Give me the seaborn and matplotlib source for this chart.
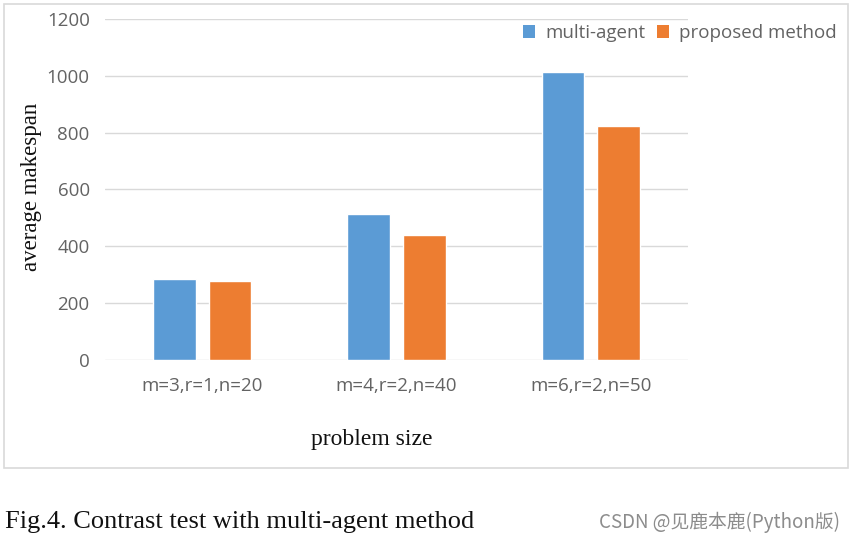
import matplotlib
matplotlib.use("Agg")
import matplotlib.pyplot as plt
import seaborn as sns
import pandas as pd
from matplotlib.patches import Rectangle, Patch

categories = ["m=3,r=1,n=20", "m=4,r=2,n=40", "m=6,r=2,n=50"]
series_names = ["multi-agent", "proposed method"]
multi_agent = [284, 515, 1015]
proposed = [277, 440, 825]
yticks = [0, 200, 400, 600, 800, 1000, 1200]

df = pd.DataFrame({
    "problem size": categories * 2,
    "value": multi_agent + proposed,
    "method": [series_names[0]] * 3 + [series_names[1]] * 3,
})

sns.set_theme(style="white")
plt.rcParams['font.family'] = ['Open Sans', 'DejaVu Sans']

fig = plt.figure(figsize=(8.55, 5.41), dpi=100)
ax = fig.add_axes([0.1228, 0.3346, 0.6819, 0.6303])

palette = {"multi-agent": "#5B9BD5", "proposed method": "#ED7D31"}
sns.barplot(data=df, x="problem size", y="value", hue="method", palette=palette,
            width=0.572, gap=0.23, ax=ax, saturation=1, legend=False)

tick_color = "#636363"
ax.set_ylim(0, 1200)
ax.set_yticks(yticks)
ax.set_yticklabels([str(t) for t in yticks], color=tick_color, fontsize=13.5)
ax.set_xticks(range(len(categories)))
ax.set_xticklabels(categories, color=tick_color, fontsize=13.5)
ax.tick_params(axis='y', length=0, pad=11)
ax.tick_params(axis='x', length=0, pad=12)
ax.grid(axis='y', color="#D9D9D9", linewidth=1)
ax.set_axisbelow(True)
for s in ax.spines.values():
    s.set_visible(False)
ax.set_xlim(-0.5, 2.5)

ax.set_xlabel("")
ax.set_ylabel("")
fig.text(372 / 855, 1 - 440 / 541, "problem size", family="Liberation Serif", fontsize=17,
         ha="center", va="center", color="#111111")
fig.text(31 / 855, 1 - 187 / 541, "average makespan", family="Liberation Serif",
         fontsize=16.5, rotation=90, ha="center", va="center", color="#111111")

handles = [Patch(facecolor=palette[n], edgecolor="none") for n in series_names]
fig.legend(handles, series_names, loc="center right", bbox_to_anchor=(837 / 855, 1 - 33 / 541),
           ncol=2, frameon=False, fontsize=13.5, handlelength=0.65, handleheight=0.65,
           handletextpad=0.55, columnspacing=0.6, labelcolor=tick_color,
           borderaxespad=0, borderpad=0)

fig.patches.append(Rectangle((4 / 855, 1 - 468 / 541), 844 / 855, 464 / 541,
                             transform=fig.transFigure, fill=False,
                             edgecolor="#D9D9D9", linewidth=1.2))

fig.text(5 / 855, 1 - 522 / 541, "Fig.4. Contrast test with multi-agent method",
         family="Liberation Serif", fontsize=19, ha="left", va="center", color="#111111")
fig.text(840 / 855, 1 - 522 / 541, "CSDN @见鹿本鹿(Python版)",
         family=["Noto Sans CJK SC", "DejaVu Sans"], fontsize=13.5, ha="right", va="center",
         color="#8c8c8c")

fig.savefig("out.png", dpi=100)
